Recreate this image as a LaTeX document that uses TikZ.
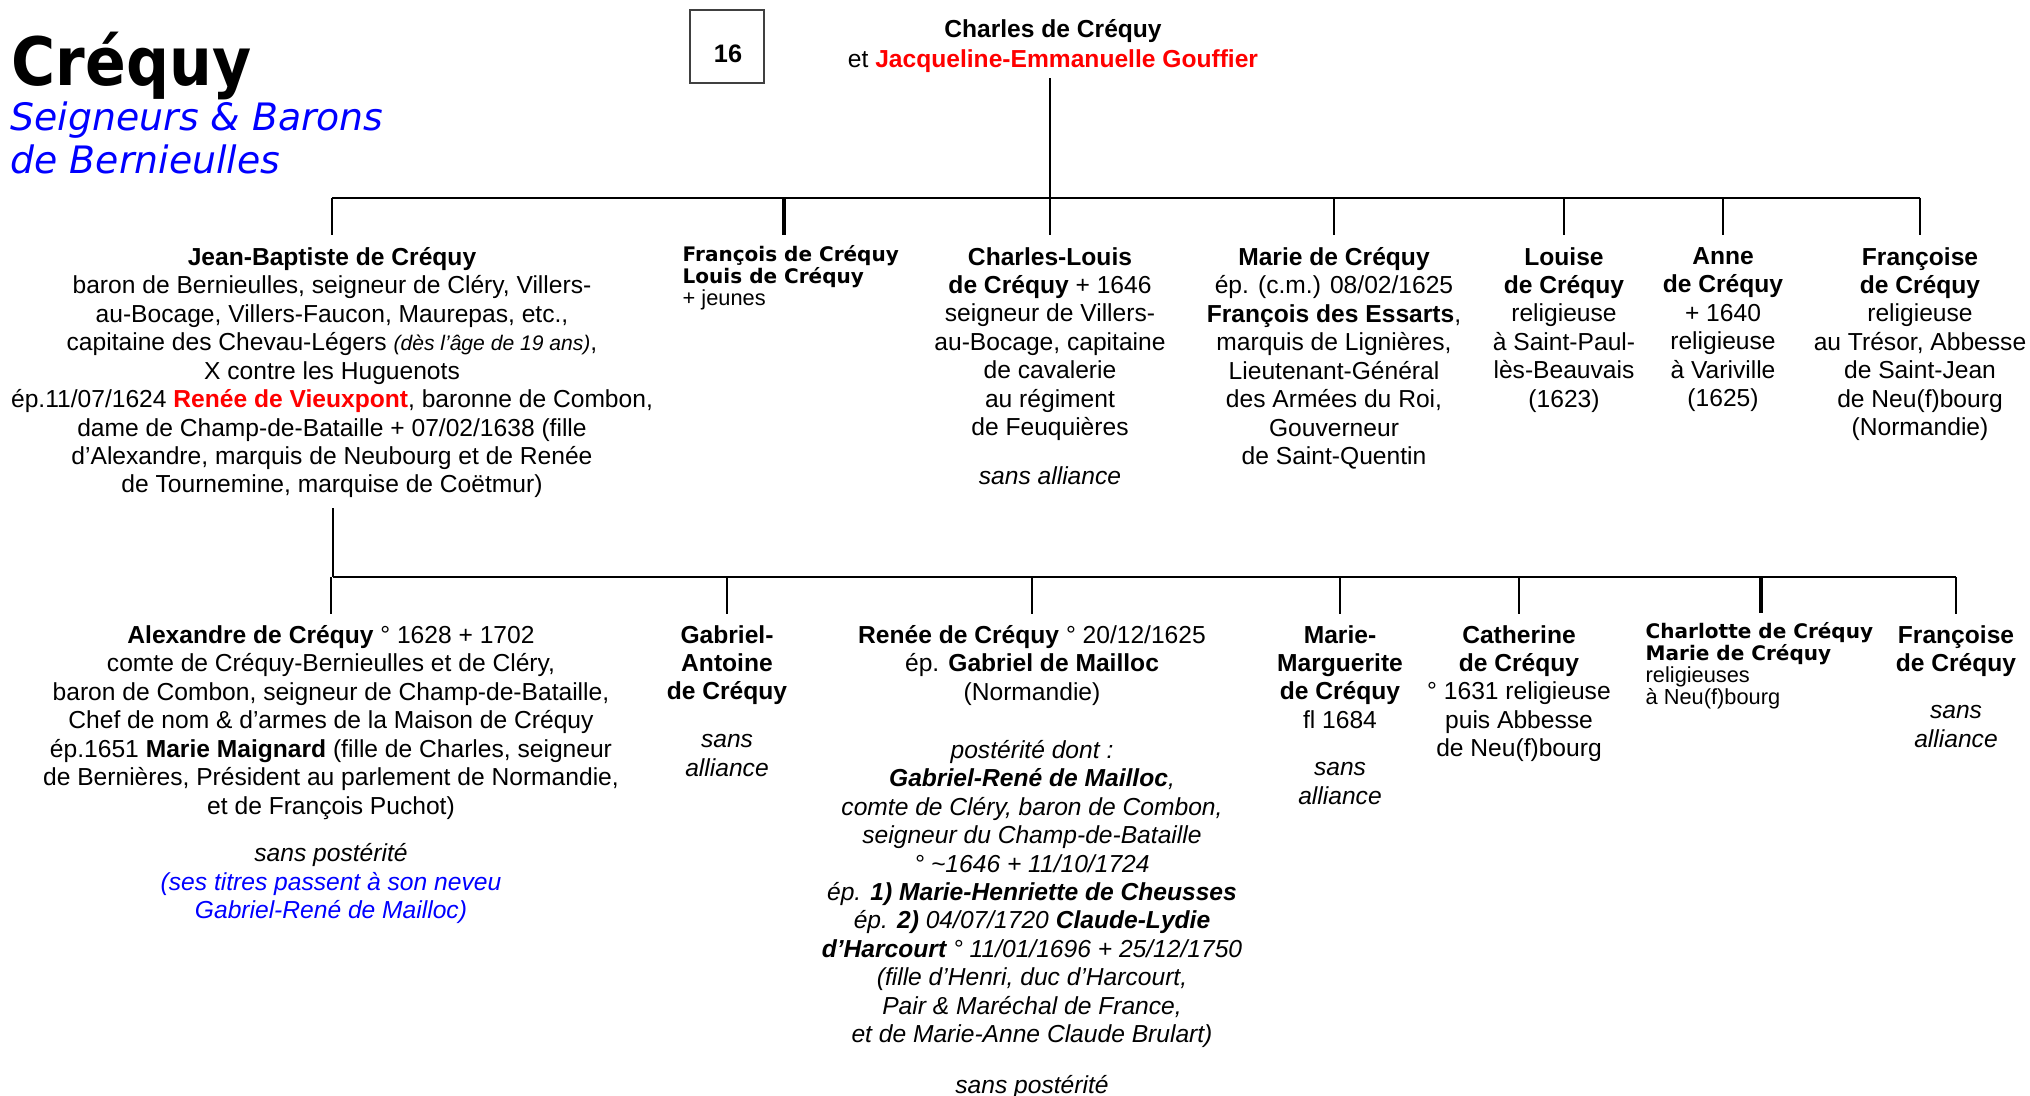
\documentclass[tikz,border=0pt]{standalone}
\usepackage{fontspec}
\setmainfont{Liberation Sans}
\newfontfamily\verdana{DejaVu Sans}
\newfontfamily\titlefont{DejaVu Sans}[FakeStretch=0.9]
\usetikzlibrary{positioning}
\definecolor{spouse}{HTML}{FF0000}
\definecolor{branch}{HTML}{0000FF}
\tikzset{
  person/.style={inner sep=0pt, align=center, anchor=north, font=\fontsize{7}{8.1}\selectfont, execute at begin node=\strut},
  group/.style={inner sep=0pt, align=left, anchor=north west, font=\verdana\bfseries\fontsize{5.7}{6.3}\selectfont, execute at begin node=\strut},
  bar/.style={line width=0.75pt},
  stem/.style={line width=0.55pt},
  drop/.style={line width=0.55pt, shorten >=1.1mm},
  heavy/.style={line width=1.3pt},
  numbox/.style={draw=black!75, line width=0.4pt},
}

\begin{document}
\begin{tikzpicture}[x=0.1mm, y=-0.1mm]
  \useasboundingbox (0,0) rectangle (2030,1096);

  % Title
  \node[anchor=base west, inner sep=0pt, font=\titlefont\bfseries\fontsize{19}{22}\selectfont] (title) at (11,86) {Créquy};
  \node[anchor=north west, inner sep=0pt, align=left, text=branch, font=\verdana\itshape\fontsize{10.75}{12.2}\selectfont, execute at begin node=\strut] (subtitle) at (10,101) {Seigneurs \& Barons\\de Bernieulles};

  % Plate number
  \draw[numbox] (690,10) rectangle (764,83);
  \node[anchor=base, inner sep=0pt, font=\bfseries\fontsize{7.2}{8}\selectfont] (plate) at (728,63) {16};

  % Parents
  \node[person] (parents) at (1053,18.5) {\textbf{Charles de Créquy}\\[0.4pt]
    et \textcolor{spouse}{\textbf{Jacqueline-Emmanuelle Gouffier}}};
  \coordinate (bar1) at (1050,198);
  \draw[stem, shorten <=0.2mm] (parents.south -| bar1) -- (bar1);

  % First generation
  \node[person] (jb) at (332,246.5) {\textbf{Jean-Baptiste de Créquy}\\
    baron de Bernieulles, seigneur de Cléry, Villers-\\
    au-Bocage, Villers-Faucon, Maurepas, etc.,\\
    capitaine des Chevau-Légers {\itshape\fontsize{6}{8.1}\selectfont (dès l’âge de 19 ans)},\\
    X contre les Huguenots\\
    ép.11/07/1624 \textcolor{spouse}{\textbf{Renée de Vieuxpont}}, baronne de Combon,\\
    dame de Champ-de-Bataille + 07/02/1638 (fille\\
    d’Alexandre, marquis de Neubourg et de Renée\\
    de Tournemine, marquise de Coëtmur)};
  \node[group] (fl) at (682,244.5) {François de Créquy\\Louis de Créquy\\
    {\normalfont\fontsize{6.2}{6.3}\selectfont + jeunes}};
  \node[person] (cl) at (1050,246.5) {\textbf{Charles-Louis}\\
    \textbf{de Créquy} + 1646\\
    seigneur de Villers-\\
    au-Bocage, capitaine\\
    de cavalerie\\
    au régiment\\
    de Feuquières\\[5.8pt]
    \textit{sans alliance}};
  \node[person] (md) at (1334,246.5) {\textbf{Marie de Créquy}\\
    ép. (c.m.) 08/02/1625\\
    \textbf{François des Essarts},\\
    marquis de Lignières,\\
    Lieutenant-Général\\
    des Armées du Roi,\\
    Gouverneur\\
    de Saint-Quentin};
  \node[person] (lo) at (1564,246.5) {\textbf{Louise}\\\textbf{de Créquy}\\religieuse\\à Saint-Paul-\\lès-Beauvais\\(1623)};
  \node[person] (an) at (1723,246.5) {\textbf{Anne}\\\textbf{de Créquy}\\+ 1640\\religieuse\\à Variville\\(1625)};
  \node[person] (fa) at (1920,246.5) {\textbf{Françoise}\\\textbf{de Créquy}\\religieuse\\au Trésor, Abbesse\\de Saint-Jean\\de Neu(f)bourg\\(Normandie)};
  \coordinate (fltick) at (784,235);

  \draw[bar] (bar1 -| jb.north) -- (bar1 -| fa.north);
  \foreach \c in {jb,cl,md,lo,an,fa}
    \draw[drop] (bar1 -| \c.north) -- (\c.north);
  \draw[heavy] (bar1 -| fltick) -- (fltick);

  % Second generation
  \coordinate (bar2) at (333,577);
  \draw[stem, shorten <=0.6mm] (jb.south -| bar2) -- (bar2);

  \node[person] (al) at (331,624.5) {\textbf{Alexandre de Créquy} ° 1628 + 1702\\
    comte de Créquy-Bernieulles et de Cléry,\\
    baron de Combon, seigneur de Champ-de-Bataille,\\
    Chef de nom \& d’armes de la Maison de Créquy\\
    ép.1651 \textbf{Marie Maignard} (fille de Charles, seigneur\\
    de Bernières, Président au parlement de Normandie,\\
    et de François Puchot)\\[5.5pt]
    \textit{sans postérité}\\
    \textcolor{branch}{\textit{(ses titres passent à son neveu}}\\
    \textcolor{branch}{\textit{Gabriel-René de Mailloc)}}};
  \node[person] (ga) at (727,624.5) {\textbf{Gabriel-}\\\textbf{Antoine}\\\textbf{de Créquy}\\[5.5pt]
    \textit{sans}\\\textit{alliance}};
  \node[person] (rc) at (1032,624.5) {\textbf{Renée de Créquy} ° 20/12/1625\\
    ép. \textbf{Gabriel de Mailloc}\\
    (Normandie)\\[8.4pt]
    \textit{postérité dont :}\\
    \textit{\textbf{Gabriel-René de Mailloc},}\\
    \textit{comte de Cléry, baron de Combon,}\\
    \textit{seigneur du Champ-de-Bataille}\\
    \textit{° \textasciitilde1646 + 11/10/1724}\\
    \textit{ép. \textbf{1) Marie-Henriette de Cheusses}}\\
    \textit{ép. \textbf{2)} 04/07/1720 \textbf{Claude-Lydie}}\\
    \textit{\textbf{d’Harcourt} ° 11/01/1696 + 25/12/1750}\\
    \textit{(fille d’Henri, duc d’Harcourt,}\\
    \textit{Pair \& Maréchal de France,}\\
    \textit{et de Marie-Anne Claude Brulart)}\\[6.4pt]
    \textit{sans postérité}};
  \node[person] (mm) at (1340,624.5) {\textbf{Marie-}\\\textbf{Marguerite}\\\textbf{de Créquy}\\fl 1684\\[5.3pt]
    \textit{sans}\\\textit{alliance}};
  \node[person] (ca) at (1519,624.5) {\textbf{Catherine}\\\textbf{de Créquy}\\° 1631 religieuse\\puis Abbesse\\de Neu(f)bourg};
  \node[group] (cm) at (1645,621.5) {Charlotte de Créquy\\Marie de Créquy\\
    {\normalfont\fontsize{6.2}{6.3}\selectfont religieuses}\\
    {\normalfont\fontsize{6.2}{6.3}\selectfont à Neu(f)bourg}};
  \node[person] (fb) at (1956,624.5) {\textbf{Françoise}\\\textbf{de Créquy}\\[5.3pt]
    \textit{sans}\\\textit{alliance}};
  \coordinate (cmtick) at (1761,613);

  \draw[bar] (bar2) -- (bar2 -| fb.north);
  \foreach \c in {al,ga,rc,mm,ca,fb}
    \draw[drop] (bar2 -| \c.north) -- (\c.north);
  \draw[heavy] (bar2 -| cmtick) -- (cmtick);
\end{tikzpicture}
\end{document}
